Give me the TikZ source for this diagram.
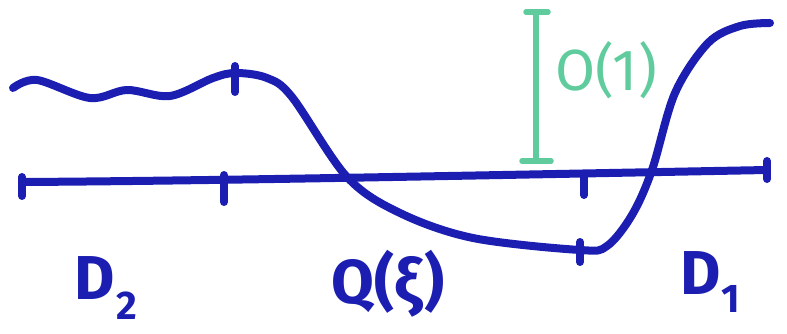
\documentclass[tikz,border=0pt]{standalone}
\usepackage{fontspec}
\setmainfont{Fira Sans}
\definecolor{pen}{RGB}{28,30,178}
\definecolor{mint}{RGB}{96,204,158}
\begin{document}
\begin{tikzpicture}[x=1pt,y=-1pt,
  ink/.style={line width=8pt,line cap=round,line join=round,draw=pen},
  tickmark/.style={line width=8pt,line cap=round,draw=pen},
  bar/.style={line width=5.5pt,line cap=round,draw=mint},
  lab/.style={text=pen,font=\bfseries\fontsize{62}{62}\selectfont,inner sep=0pt},
  glab/.style={text=mint,font=\fontsize{58}{58}\selectfont,inner sep=0pt}]
\useasboundingbox (0,0) rectangle (787,334);
% axis
\coordinate (aL) at (22,182);
\coordinate (aR) at (767,170);
\draw[ink] (aL) .. controls (200,181) and (450,176) .. (aR);
\draw[tickmark] (22,177) -- (22,196);
\draw[tickmark] (224,175) -- (224,202);
\draw[tickmark] (584,174) -- (584,195);
\draw[tickmark] (767,161) -- (767,179);
% curve
\draw[ink] plot[smooth,tension=0.55] coordinates {(13,88) (37,80) (90,98) (127,90) (170,96) (213,78) (236,73) (267,78) (292,97) (347,177) (400,213) (473,238) (580,250) (607,246) (632,215) (652,170) (675,93) (708,43) (740,26) (770,23)};
\draw[tickmark] (235,66) -- (235,92);
\draw[tickmark] (580,242) -- (580,262);
% O(1) bar
\coordinate (bT) at (536,12);
\coordinate (bB) at (536,161);
\draw[bar] (bT) -- (bB);
\draw[bar] (526,12) -- (548,12);
\draw[bar] (522,161) -- (551,161);
\node[glab] (o1) at (606,70) {O(1)};
% labels
\node[lab] (d2) at (106,288) {D\kern1pt\raisebox{-0.32em}{\fontsize{40}{40}\selectfont 2}};
\node[lab] (q) at (388,284) {Q(ξ)};
\node[lab] (d1) at (710,282) {D\kern1pt\raisebox{-0.3em}{\fontsize{40}{40}\selectfont 1}};
\end{tikzpicture}
\end{document}
